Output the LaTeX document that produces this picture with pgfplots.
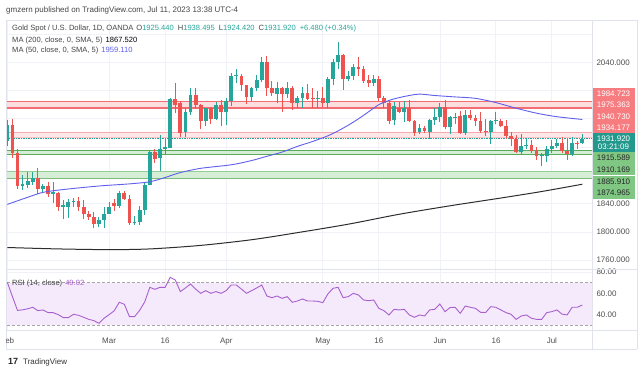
\documentclass[border=0pt]{standalone}
\usepackage{pgfplots}
\pgfplotsset{compat=1.18}
\usepackage{pgfplotstable}
\usepackage{fontspec}
\setmainfont{Liberation Sans}
\definecolor{cgreen}{RGB}{38,166,154}
\definecolor{cred}{RGB}{239,83,80}
\definecolor{gridc}{RGB}{240,242,247}
\definecolor{framec}{RGB}{224,227,235}
\definecolor{labc}{RGB}{80,80,80}
\definecolor{txtc}{RGB}{70,70,70}
\definecolor{ma50}{RGB}{95,95,235}
\definecolor{ma200}{RGB}{45,45,45}
\definecolor{rsic}{RGB}{168,95,205}
\definecolor{rsifill}{RGB}{245,234,251}
\definecolor{bandred}{RGB}{253,222,223}
\definecolor{lnred}{RGB}{242,110,116}
\definecolor{bandred2}{RGB}{253,231,232}
\definecolor{lnred2}{RGB}{247,170,173}
\definecolor{bandgrn}{RGB}{214,237,214}
\definecolor{lngrn}{RGB}{92,170,94}
\definecolor{lngrn2}{RGB}{150,205,150}
\definecolor{boxred}{RGB}{247,124,128}
\definecolor{boxgrn}{RGB}{129,199,132}
\definecolor{boxteal}{RGB}{34,153,140}
\newcommand\sz{\fontsize{8}{9.4}\selectfont}
\newcommand\lsz{\fontsize{7.6}{9}\selectfont}

\pgfplotstableread{
i O H L C
0 1929 1959 1921 1951
3 1865 1880 1860 1868
4 1867 1885 1862 1872
5 1871 1885 1867 1876
7 1861 1868 1855 1865
9 1854 1871 1841 1856
11 1836 1845 1818 1838
12 1836 1847 1820 1843
13 1842 1848 1836 1844
18 1811 1821 1807 1817
19 1817 1836 1806 1826
20 1826 1843 1826 1836
22 1837 1858 1834 1855
25 1812 1823 1810 1814
26 1814 1837 1810 1831
27 1831 1870 1824 1866
28 1866 1914 1866 1913
30 1904 1937 1886 1918
31 1918 1933 1909 1920
32 1919 1989 1919 1988
35 1942 1975 1935 1970
36 1970 2003 1966 1994
39 1957 1976 1950 1975
41 1960 1984 1958 1980
43 1969 1990 1951 1985
44 1985 2025 1978 2021
45 2020 2031 2010 2021
48 1991 2005 1985 2003
49 2003 2022 1999 2015
50 2015 2048 2012 2041
53 1995 2012 1982 2004
55 1995 2012 1990 2004
57 1982 1993 1975 1990
58 1989 2005 1975 1996
61 1988 1999 1976 1990
63 1982 2019 1976 2017
64 2017 2044 2008 2040
65 2040 2068 2031 2050
67 2016 2027 2013 2021
68 2021 2037 2015 2034
72 2011 2022 2007 2017
76 1958 1984 1951 1978
78 1970 1985 1955 1975
81 1942 1953 1938 1947
83 1942 1960 1932 1958
84 1958 1975 1951 1962
85 1962 1983 1955 1977
87 1949 1964 1938 1962
88 1961 1968 1953 1963
90 1940 1972 1937 1965
95 1941 1959 1925 1957
96 1957 1969 1952 1958
101 1913 1938 1910 1921
102 1921 1933 1917 1923
105 1907 1912 1893 1908
106 1907 1922 1899 1918
107 1918 1930 1912 1921
108 1921 1931 1919 1926
111 1910 1935 1908 1926
113 1925.44 1938.495 1924.42 1931.92
}\upbars

\pgfplotstableread{
i O H L C
1 1951 1960 1905 1912
2 1912 1918 1861 1865
6 1876 1890 1853 1861
8 1865 1870 1850 1854
10 1855 1857 1830 1836
14 1844 1850 1829 1835
15 1835 1845 1819 1825
16 1825 1830 1817 1821
17 1821 1828 1805 1811
21 1841 1846 1830 1837
23 1855 1858 1845 1846
24 1846 1852 1810 1812
29 1913 1918 1898 1903
33 1988 2010 1968 1980
34 1982 1985 1934 1940
37 1994 2003 1974 1979
38 1979 1981 1945 1957
40 1975 1977 1953 1960
42 1980 1987 1950 1970
46 2021 2024 2000 2008
47 2008 2008 1981 1991
51 2041 2049 1992 2004
52 2004 2013 1992 1996
54 2004 2005 1970 1995
56 2004 2006 1973 1982
59 1996 2009 1986 1988
60 1990 2003 1975 1988
62 1990 2005 1977 1982
66 2050 2052 2001 2017
69 2034 2048 2021 2030
70 2030 2035 2010 2014
71 2015 2022 2005 2011
73 2017 2020 1985 1989
74 1989 1993 1975 1982
75 1982 1985 1952 1957
77 1975 1984 1968 1970
79 1975 1986 1955 1957
80 1957 1959 1936 1940
82 1947 1950 1940 1943
86 1977 1986 1946 1949
89 1964 1971 1939 1940
91 1965 1973 1958 1961
92 1961 1966 1950 1957
93 1957 1970 1940 1943
94 1943 1960 1936 1941
97 1957 1960 1948 1950
98 1950 1959 1932 1936
99 1936 1941 1921 1932
100 1932 1937 1912 1913
103 1923 1930 1911 1914
104 1914 1920 1902 1907
109 1926 1935 1912 1914
110 1915 1933 1902 1910
112 1926 1929 1917 1925
}\downbars

\pgfplotstableread{
i v
0 1839
4 1849
7 1856
11 1860
18 1865
24 1868
28 1871
31 1877
34 1884
38 1890
44 1895
48 1901
51 1907
54 1913
57 1921
60 1928
63 1936
65 1943
67 1951
69 1960
71 1970
73 1980
75 1986
77 1990
79 1993
81 1995
84 1993
88 1991
92 1989
96 1983
100 1975
104 1968
108 1963
113 1959.11
}\mafifty

\pgfplotstableread{
i v
0 1778
10 1776
20 1775
28 1776
38 1781
48 1789
57 1799
67 1811
77 1825
87 1837
97 1848
104 1856
108 1861
113 1867.52
}\matwohundred

\pgfplotstableread{
i v
0 70.3
1 57
2 44
3 44.5
4 45.5
5 46.9
6 43.75
7 44.4
8 41.9
9 41.9
10 40
11 37.2
12 37.2
13 40.3
14 39.4
15 37.5
16 35.6
17 34.4
18 31.9
19 36.6
20 40
21 43.6
22 51.6
23 49.7
24 38.1
25 38.1
26 44
27 52
28 65.6
29 63.75
30 65.6
31 65.6
32 75
33 72.5
34 61.6
35 65
36 68.75
37 64
38 60
39 62.5
40 60
41 61.6
42 60
43 62.5
44 67.8
45 67.8
46 64
47 60
48 62.5
49 65
50 67.8
51 57.5
52 55.9
53 57.5
54 55.3
55 56.9
56 51.6
57 52.8
58 54.7
59 52.8
60 52.8
61 52.5
62 51.25
63 59.4
64 64.7
65 65.6
66 55.9
67 56.9
68 60
69 58.4
70 53.75
71 53.1
72 53.75
73 45.9
74 43.75
75 39.7
76 45
77 44.4
78 45
79 39.7
80 37.5
81 39.7
82 38.75
83 44.4
84 45
85 50
86 42.8
87 46.6
88 46.9
89 41.25
90 48.1
91 46.9
92 45.9
93 42.2
94 42
95 47.5
96 46.9
97 44.4
98 41.9
99 40.3
100 35.6
101 38.75
102 39.7
103 36.6
104 35.6
105 35.6
106 41.9
107 42.8
108 44.4
109 40.5
110 39.7
111 46.9
112 46.9
113 49.02
}\rsidata

\pgfplotsset{tvaxis/.style={
  scale only axis, anchor=south west, width=586bp,
  xmin=-0.26, xmax=114.9,
  axis line style={draw=none}, major tick length=0pt,
  xtick={0,20,31,43,62,73,85,96,107}, xticklabels={},
  grid=major, major grid style={draw=gridc, line width=0.7bp},
  yticklabel pos=right,
  yticklabel style={font=\sz, text=labc, anchor=west, xshift=1bp},
}}

\begin{document}
\begin{tikzpicture}[x=1bp,y=1bp]
\fill[white] (0,0) rectangle (643,373);
\path[use as bounding box] (0,0) rectangle (643,373);

% ---------------- RSI pane
\begin{axis}[tvaxis, at={(6bp,43bp)}, height=61bp,
  ymin=25.6, ymax=82.8, ytick={40,60,80}, yticklabels={40.00,60.00,80.00}]
\addplot[draw=none, fill=rsifill, forget plot] coordinates {(-1,30) (116,30) (116,70) (-1,70)} -- cycle;
\addplot[densely dashed, draw=gray!70, line width=0.6bp, forget plot] coordinates {(-1,70) (116,70)};
\addplot[densely dashed, draw=gray!70, line width=0.6bp, forget plot] coordinates {(-1,30) (116,30)};
\addplot[rsic, line width=0.9bp, mark=none] table[x=i, y=v] {\rsidata};
\end{axis}

% ---------------- Price pane
\begin{axis}[tvaxis, at={(6bp,104bp)}, height=249bp,
  ymin=1747.6, ymax=2099.8,
  ytick={1760,1800,1840,1880,1920,1960,2000,2040,2080},
  yticklabels={1760.000,1800.000,1840.000,{},{},{},{},2040.000,{}}]
% zones
\addplot[draw=none, fill=bandred, forget plot] coordinates {(-1,1975.363) (116,1975.363) (116,1984.723) (-1,1984.723)} -- cycle;
\addplot[lnred, line width=1.1bp, forget plot] coordinates {(-1,1984.723) (116,1984.723)};
\addplot[lnred, line width=1.1bp, forget plot] coordinates {(-1,1975.363) (116,1975.363)};
\addplot[draw=none, fill=bandred2, forget plot] coordinates {(-1,1934.177) (116,1934.177) (116,1940.730) (-1,1940.730)} -- cycle;
\addplot[lnred2, line width=1bp, forget plot] coordinates {(-1,1940.730) (116,1940.730)};
\addplot[lnred2!70, line width=0.8bp, forget plot] coordinates {(-1,1934.177) (116,1934.177)};
\addplot[draw=none, fill=bandgrn, forget plot] coordinates {(-1,1910.169) (116,1910.169) (116,1915.589) (-1,1915.589)} -- cycle;
\addplot[lngrn, line width=1bp, forget plot] coordinates {(-1,1915.589) (116,1915.589)};
\addplot[lngrn, line width=1bp, forget plot] coordinates {(-1,1910.169) (116,1910.169)};
\addplot[draw=none, fill=bandgrn, forget plot] coordinates {(-1,1874.965) (116,1874.965) (116,1885.910) (-1,1885.910)} -- cycle;
\addplot[lngrn2, line width=0.9bp, forget plot] coordinates {(-1,1885.910) (116,1885.910)};
\addplot[lngrn!80, line width=1bp, forget plot] coordinates {(-1,1874.965) (116,1874.965)};
\addplot[cgreen, densely dotted, line width=0.7bp, forget plot] coordinates {(-1,1931.92) (116,1931.92)};
% wicks
\addplot[draw=none, mark=none, forget plot,
  error bars/.cd, y dir=plus, y explicit, error mark=none,
  error bar style={draw=cgreen, line width=0.9bp}]
  table[x=i, y=L, y error expr=\thisrow{H}-\thisrow{L}] {\upbars};
\addplot[draw=none, mark=none, forget plot,
  error bars/.cd, y dir=plus, y explicit, error mark=none,
  error bar style={draw=cred, line width=0.9bp}]
  table[x=i, y=L, y error expr=\thisrow{H}-\thisrow{L}] {\downbars};
% bodies
\addplot[draw=none, mark=none, forget plot,
  error bars/.cd, y dir=plus, y explicit, error mark=none,
  error bar style={draw=cgreen, line width=3.8bp}]
  table[x=i, y=O, y error expr={max(\thisrow{C}-\thisrow{O},1.3)}] {\upbars};
\addplot[draw=none, mark=none, forget plot,
  error bars/.cd, y dir=plus, y explicit, error mark=none,
  error bar style={draw=cred, line width=3.8bp}]
  table[x=i, y=C, y error expr={max(\thisrow{O}-\thisrow{C},1.3)}] {\downbars};
% moving averages
\addplot[ma200, line width=1bp, smooth, mark=none] table[x=i, y=v] {\matwohundred};
\addplot[ma50, line width=0.9bp, smooth, mark=none] table[x=i, y=v] {\mafifty};
\end{axis}

% ---------------- frame
\draw[framec, line width=0.6bp] (6,353) -- (637,353);
\draw[framec, line width=0.6bp] (6,104) -- (637,104);
\draw[framec, line width=0.6bp] (6,43) -- (637,43);
\draw[framec, line width=0.6bp] (6,24) -- (637,24);
\draw[framec, line width=0.6bp] (6,24) -- (6,353);
\draw[framec, line width=0.6bp] (592,24) -- (592,353);
\draw[framec, line width=0.6bp] (637,24) -- (637,353);

% ---------------- x labels
\begin{scope}
\clip (6.5,20) rectangle (640,45);
\node[font=\sz, text=labc, anchor=base] at (7.3,30) {Feb};
\end{scope}
\foreach \xx/\tt in {109.1/Mar,165.1/16,226.2/Apr,322.9/May,378.9/16,440/Jun,496/16,551.9/Jul}
  \node[font=\sz, text=labc, anchor=base] at (\xx,30) {\tt};

% ---------------- header and legends
\node[font=\sz, text=txtc, anchor=base west, inner sep=0] at (6,361) {gmzern published on TradingView.com, Jul 11, 2023 13:38 UTC-4};
\node[font=\lsz, text=txtc, anchor=base west, inner sep=0] at (12,343) {Gold Spot / U.S. Dollar, 1D, OANDA\hspace{3bp}O\textcolor{cgreen}{1925.440}\hspace{4bp}H\textcolor{cgreen}{1938.495}\hspace{4bp}L\textcolor{cgreen}{1924.420}\hspace{4bp}C\textcolor{cgreen}{1931.920}\hspace{4bp}\textcolor{cgreen}{+6.480 (+0.34\%)}};
\node[font=\lsz, text=txtc, anchor=base west, inner sep=0] at (12,331) {MA (200, close, 0, SMA, 5)\hspace{3bp}\textcolor{black}{1867.520}};
\node[font=\lsz, text=txtc, anchor=base west, inner sep=0] at (12,321) {MA (50, close, 0, SMA, 5)\hspace{3bp}\textcolor{ma50}{1959.110}};
\node[font=\lsz, text=txtc, anchor=base west, inner sep=0] at (12,88) {RSI (14, close)\hspace{3bp}\textcolor{rsic}{49.02}};

% ---------------- price scale labels
\foreach \yy/\tt in {93.9/1984.723,105.1/1975.363,116.3/1940.730,127.5/1934.177}
  \node[fill=boxred, text=white, font=\sz, minimum width=42bp, minimum height=11.2bp, inner sep=0] at (613.5,373-\yy) {\tt};
\node[fill=boxteal, text=white, font=\sz, minimum width=42bp, minimum height=19bp, inner sep=0, align=center] at (613.5,373-142.5) {1931.920\\[-1.2bp]03:21:09};
\foreach \yy/\tt in {157.9/1915.589,169.6/1910.169,181.4/1885.910,193.1/1874.965}
  \node[fill=boxgrn, text=black!85, font=\sz, minimum width=42bp, minimum height=11.75bp, inner sep=0] at (613.5,373-\yy) {\tt};

% ---------------- TradingView logo
\node[font=\fontsize{9}{10}\selectfont\bfseries, text=black!85, anchor=base west, inner sep=0] at (8,9) {17};
\node[font=\sz, text=black!80, anchor=base west, inner sep=0] at (23,9) {TradingView};
\end{tikzpicture}
\end{document}
